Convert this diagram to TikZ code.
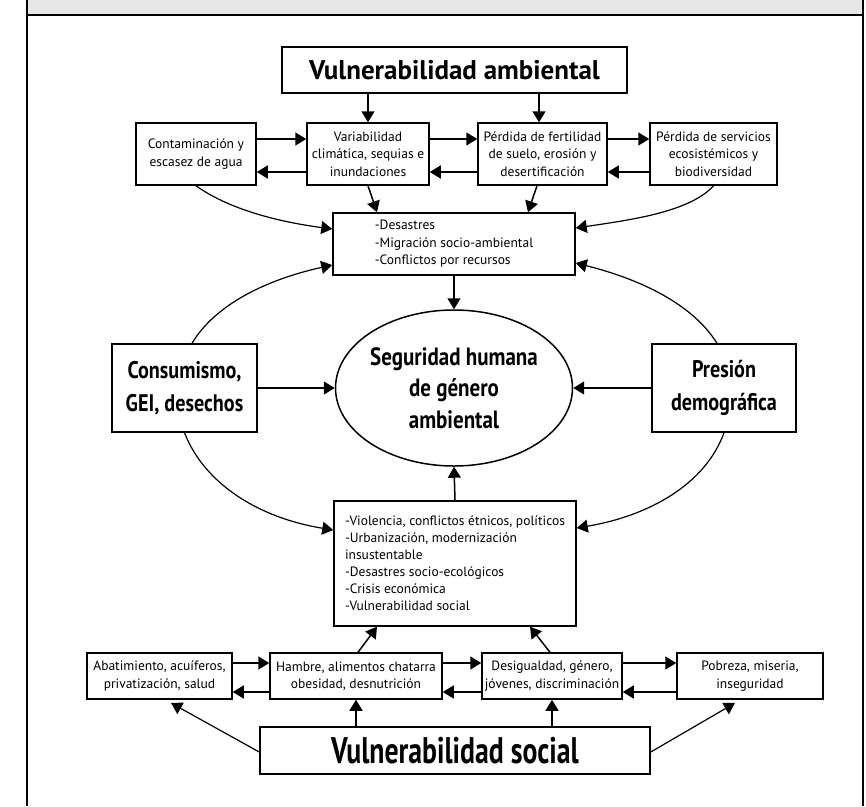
\documentclass[tikz,border=0pt]{standalone}
\usepackage{fontspec}
\setmainfont{PT Sans}
\newfontfamily\condfont[FakeStretch=0.84]{PT Sans}
\newfontfamily\narrowfont[FakeStretch=0.75]{PT Sans}
\usetikzlibrary{shapes.geometric, arrows.meta}
\definecolor{bandgray}{HTML}{E6E7E8}

\begin{document}
\begin{tikzpicture}[x=1pt, y=-1pt,
    >={Triangle[length=11pt, width=13pt]},
    box/.style={draw, line width=1.5pt, align=center, inner sep=1pt,
        font=\fontsize{13.5}{17.5}\selectfont},
    bigbox/.style={draw, line width=1.5pt, align=center, inner sep=2pt,
        font=\condfont\bfseries\fontsize{24}{33}\selectfont},
    link/.style={->, line width=1.5pt},
    arc/.style={->, line width=1.2pt}]
    \useasboundingbox (0,0) rectangle (866,806);

    % Frame with grey band
    \fill[bandgray] (27,0) rectangle (863,15);
    \draw[line width=2.2pt] (27,0) -- (27,806);
    \draw[line width=2.2pt] (863,0) -- (863,806);
    \draw[line width=2.2pt] (27,15) -- (863,15);

    % Environmental side
    \node[bigbox, minimum width=345pt, minimum height=46pt,
        font=\bfseries\fontsize{27}{30}\selectfont] (va) at (454.5,70) {Vulnerabilidad ambiental};
    \node[box, minimum width=120pt, minimum height=62pt] (cont) at (196,154) {Contaminación y\\escasez de agua};
    \node[box, minimum width=122pt, minimum height=62pt] (vari) at (368,154) {Variabilidad\\climática, sequias e\\inundaciones};
    \node[box, minimum width=129pt, minimum height=62pt] (ferti) at (542.5,154) {Pérdida de fertilidad\\de suelo, erosión y\\desertificación};
    \node[box, minimum width=127pt, minimum height=62pt] (serv) at (713.5,154) {Pérdida de servicios\\ecosistémicos y\\biodiversidad};
    \node[box, align=left, minimum width=242pt, minimum height=62pt] (des) at (454,244) {-Desastres\\-Migración socio-ambiental\\-Conflictos por recursos};

    % Centre
    \node[draw, ellipse, line width=1.5pt, minimum width=200pt, minimum height=156pt, inner sep=0pt,
        align=center, font=\condfont\bfseries\fontsize{25}{31.5}\selectfont] (ell) at (454,388) {Seguridad humana\\de género\\ambiental};
    \node[bigbox, minimum width=145pt, minimum height=88pt] (cons) at (184.5,388) {Consumismo,\\GEI, desechos};
    \node[bigbox, minimum width=144pt, minimum height=88pt] (pres) at (724,388) {Presión\\demográfica};

    % Social side
    \node[box, align=left, minimum width=242pt, minimum height=125pt, inner sep=3pt,
        font=\fontsize{13.5}{17}\selectfont] (viol) at (455,563.5)
        {-Violencia, conflictos étnicos, políticos\\-Urbanización, modernización\\insustentable\\-Desastres socio-ecológicos\\-Crisis económica\\-Vulnerabilidad social};
    \node[box, minimum width=145pt, minimum height=46pt] (abat) at (159.5,676) {Abatimiento, acuíferos,\\privatización, salud};
    \node[box, minimum width=172pt, minimum height=46pt] (hamb) at (356,676) {Hambre, alimentos chatarra\\obesidad, desnutrición};
    \node[box, minimum width=140pt, minimum height=46pt] (desig) at (552,676) {Desigualdad, género,\\jóvenes, discriminación};
    \node[box, minimum width=146pt, minimum height=46pt] (pobr) at (750,676) {Pobreza, miseria,\\inseguridad};
    \node[bigbox, minimum width=390pt, minimum height=47pt,
        font=\narrowfont\bfseries\fontsize{37}{40}\selectfont] (vs) at (455,750.5) {Vulnerabilidad social};

    % Arrows, top part
    \draw[link] (va.south -| vari.north) -- (vari.north);
    \draw[link] (va.south -| 539,0) -- (ferti.north -| 539,0);
    \draw[link] (cont.east |- 0,139) -- (vari.west |- 0,139);
    \draw[link] (vari.west |- 0,172) -- (cont.east |- 0,172);
    \draw[link] (vari.east |- 0,139) -- (ferti.west |- 0,139);
    \draw[link] (ferti.west |- 0,172) -- (vari.east |- 0,172);
    \draw[link] (ferti.east |- 0,139) -- (serv.west |- 0,139);
    \draw[link] (serv.west |- 0,172) -- (ferti.east |- 0,172);
    \draw[link] (vari.south) -- (des.north -| 377,0);
    \draw[link] (ferti.south -| 537,0) -- (des.north -| 528,0);
    \draw[arc] (cont.south) .. controls (230,210) and (280,222) .. (des.west |- 0,229);
    \draw[arc] (serv.south) .. controls (690,212) and (630,220) .. (des.east |- 0,228);
    \draw[link] (des.south) -- (ell.north);

    % Arrows into the centre
    \draw[link] (cons.east) -- (ell.west);
    \draw[link] (pres.west) -- (ell.east);
    \draw[link] (viol.north) -- (ell.south);
    \draw[arc] (cons.north -| 192,0) .. controls (215,305) and (265,280) .. (des.west |- 0,265);
    \draw[arc] (pres.north -| 717,0) .. controls (693,305) and (643,280) .. (des.east |- 0,263);
    \draw[arc] (cons.south) .. controls (205,485) and (260,518) .. (viol.west |- 0,530);
    \draw[arc] (pres.south) .. controls (705,485) and (648,516) .. (viol.east |- 0,528);

    % Arrows, bottom part
    \draw[link] (abat.east |- 0,663) -- (hamb.west |- 0,663);
    \draw[link] (hamb.west |- 0,692) -- (abat.east |- 0,692);
    \draw[link] (hamb.east |- 0,663) -- (desig.west |- 0,663);
    \draw[link] (desig.west |- 0,692) -- (hamb.east |- 0,692);
    \draw[link] (desig.east |- 0,663) -- (pobr.west |- 0,663);
    \draw[link] (pobr.west |- 0,692) -- (desig.east |- 0,692);
    \draw[link] (hamb.north -| 358,0) -- (viol.south -| 377,0);
    \draw[link] (desig.north -| 550,0) -- (viol.south -| 530,0);
    \draw[link] (vs.north -| 356,0) -- (hamb.south -| 356,0);
    \draw[link] (vs.north -| 552,0) -- (desig.south -| 552,0);
    \draw[arc] (vs.west |- 0,752) -- (171,703);
    \draw[arc] (vs.east |- 0,752) -- (735,703);
\end{tikzpicture}
\end{document}
